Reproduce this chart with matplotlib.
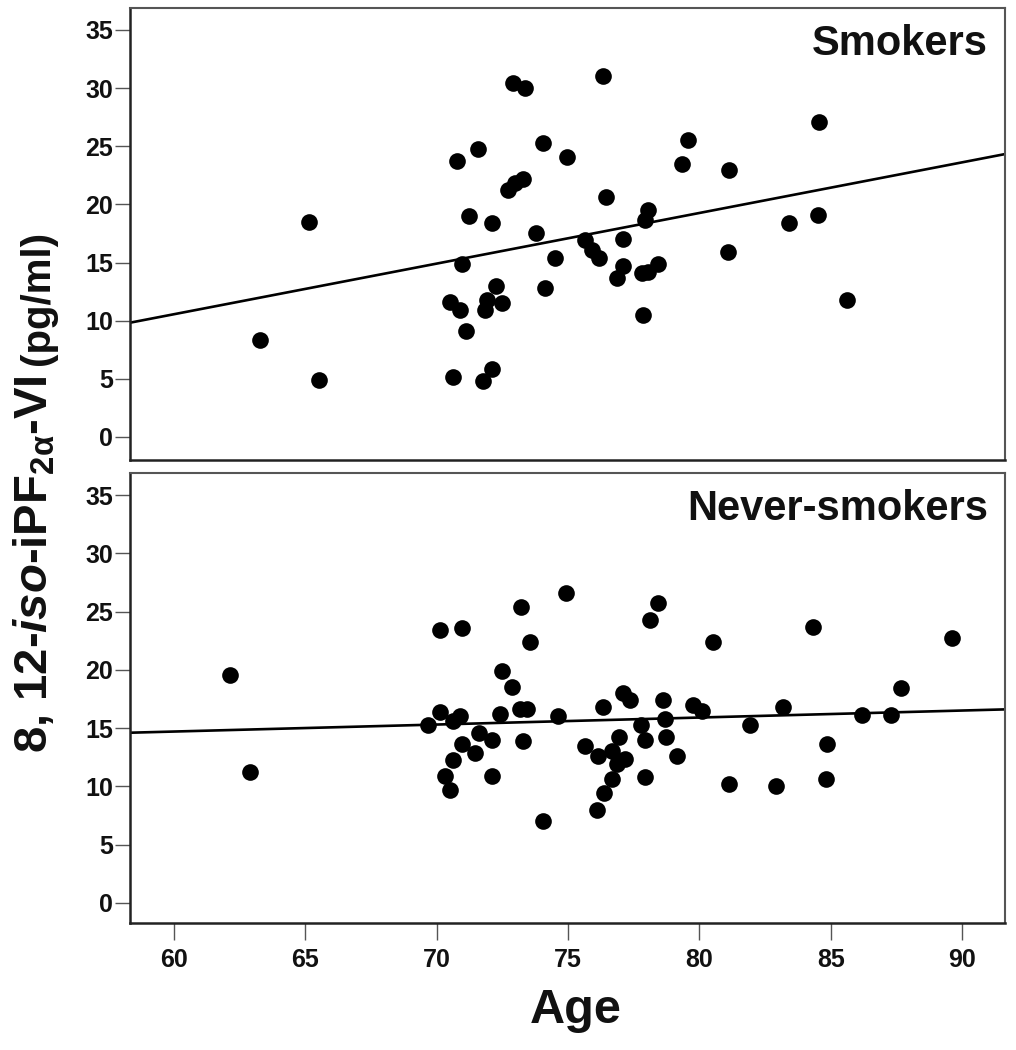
import matplotlib
matplotlib.use("Agg")
import matplotlib.pyplot as plt
import numpy as np

# values
smokers_age = [63.27, 65.14, 65.52, 70.79, 71.59, 71.23, 72.12, 70.98, 70.5, 70.89,
               71.1, 71.93, 71.84, 72.26, 72.5, 70.63, 71.77, 72.09, 72.92, 73.36,
               76.34, 84.55, 74.04, 79.55, 74.95, 79.32, 81.13, 72.73, 72.98, 73.3,
               76.45, 78.06, 77.93, 83.42, 84.52, 73.78, 75.65, 75.9, 76.19, 77.1,
               74.52, 81.1, 77.1, 76.85, 77.8, 78.05, 78.44, 74.12, 77.84, 85.6]
smokers_iso = [8.3, 18.5, 4.9, 23.7, 24.8, 19.0, 18.4, 14.9, 11.6, 10.9,
               9.1, 11.8, 10.9, 13.0, 11.55, 5.2, 4.85, 5.85, 30.4, 30.0,
               31.0, 27.1, 25.25, 25.5, 24.1, 23.45, 23.0, 21.2, 21.8, 22.2,
               20.66, 19.5, 18.7, 18.4, 19.1, 17.5, 16.9, 16.1, 15.4, 17.0,
               15.4, 15.9, 14.7, 13.7, 14.1, 14.2, 14.9, 12.8, 10.5, 11.8]

never_age = [62.13, 62.89, 70.13, 70.95, 72.47, 72.88, 70.13, 69.68, 70.63, 70.89,
             72.41, 71.62, 72.09, 70.95, 71.46, 70.63, 70.32, 70.5, 72.09, 73.2,
             74.92, 78.44, 78.12, 73.55, 80.5, 84.34, 89.63, 87.67, 77.1, 77.36,
             76.34, 78.62, 79.77, 80.09, 83.19, 86.19, 87.29, 73.17, 73.43, 74.6,
             78.7, 77.77, 81.93, 77.94, 73.3, 76.95, 78.72, 84.87, 75.65, 76.15,
             76.66, 77.17, 76.85, 79.13, 76.69, 77.92, 81.14, 82.92, 84.8, 76.38,
             76.11, 74.06]
never_iso = [19.55, 11.2, 23.4, 23.6, 19.9, 18.5, 16.4, 15.3, 15.6, 16.0,
             16.2, 14.6, 14.0, 13.65, 12.85, 12.25, 10.9, 9.65, 10.85, 25.4,
             26.56, 25.75, 24.3, 22.4, 22.4, 23.7, 22.7, 18.4, 18.0, 17.4,
             16.8, 17.4, 17.0, 16.5, 16.8, 16.1, 16.1, 16.6, 16.6, 16.06,
             15.75, 15.27, 15.27, 14.0, 13.9, 14.2, 14.2, 13.6, 13.5, 12.6,
             13.0, 12.35, 11.9, 12.6, 10.65, 10.8, 10.2, 10.0, 10.6, 9.4,
             8.0, 7.0]

# fitted lines (intercept, slope) as drawn in the picture
smokers_fit = (-15.57, 0.4354)
never_fit = (11.10, 0.0601)

panel_titles = ["Smokers", "Never-smokers"]
x_ticks = [60, 65, 70, 75, 80, 85, 90]
y_ticks = [0, 5, 10, 15, 20, 25, 30, 35]

plt.rcParams["font.family"] = ["Liberation Sans", "DejaVu Sans"]
plt.rcParams["font.weight"] = "bold"
plt.rcParams["mathtext.fontset"] = "custom"
plt.rcParams["mathtext.rm"] = "Liberation Sans:bold"
plt.rcParams["mathtext.it"] = "Liberation Sans:italic:bold"
plt.rcParams["mathtext.bf"] = "Liberation Sans:bold"

fig = plt.figure(figsize=(10.16, 10.5), dpi=100)
ax_top = fig.add_axes([0.12795, 0.5619, 0.8612, 0.4305])
ax_bot = fig.add_axes([0.12795, 0.12095, 0.8612, 0.4286])

xlim = (58.33, 91.63)
xs = np.array(xlim)

panels = [
    (ax_top, smokers_age, smokers_iso, smokers_fit, panel_titles[0], (-1.98, 36.89)),
    (ax_bot, never_age, never_iso, never_fit, panel_titles[1], (-1.72, 36.89)),
]

for ax, age, iso, fit, title, ylim in panels:
    ax.plot(age, iso, "o", color="black", markersize=12, markeredgewidth=0)
    ax.plot(xs, fit[0] + fit[1] * xs, color="black", linewidth=1.9)
    ax.set_xlim(*xlim)
    ax.set_ylim(*ylim)
    ax.set_yticks(y_ticks)
    ax.set_xticks(x_ticks)
    ax.tick_params(axis="y", length=11, width=1, color="#555555", pad=1,
                   labelsize=18, labelcolor="#111111")
    ax.tick_params(axis="x", length=12, width=1, color="#555555", pad=6,
                   labelsize=18, labelcolor="#111111")
    for side in ["top", "right"]:
        ax.spines[side].set_color("#555555")
        ax.spines[side].set_linewidth(1.5)
    for side in ["left", "bottom"]:
        ax.spines[side].set_color("#222222")
        ax.spines[side].set_linewidth(1.8)
    ax.text(0.9806, 0.896, title, transform=ax.transAxes, ha="right",
            va="baseline", fontsize=30, fontweight="bold", color="#111111")

ax_top.tick_params(axis="x", bottom=False, labelbottom=False)

fig.text(576 / 1016, 1 - 1023 / 1050, "Age", ha="center", va="baseline",
         fontsize=35, fontweight="bold", color="#111111")

ylab = fig.text(58 / 1016, 1 - 753 / 1050,
                r"8, 12-$\mathit{iso}$-iPF$_{\mathrm{2\alpha}}$-VI",
                rotation=90, ha="right", va="bottom", fontsize=34,
                fontweight="bold", color="#111111")
fig.canvas.draw()
bb = ylab.get_window_extent(renderer=fig.canvas.get_renderer())
fig.text(57 / 1016, (bb.y1 + 10) / fig.bbox.height, "(pg/ml)",
         rotation=90, ha="right", va="bottom", fontsize=29,
         fontweight="bold", color="#111111")

fig.savefig("out.png", dpi=100, facecolor="white")
